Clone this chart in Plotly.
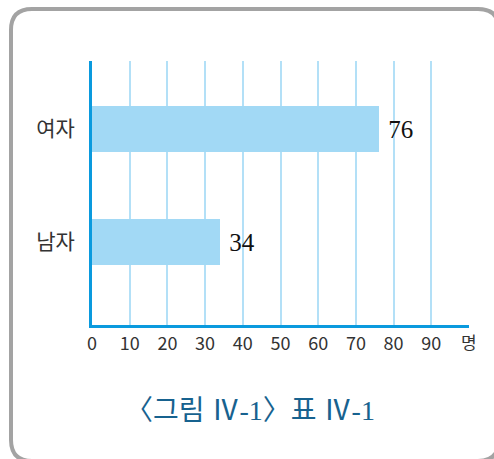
import plotly.graph_objects as go

categories = ["남자", "여자"]
values = [34, 76]
tick_vals = [0, 10, 20, 30, 40, 50, 60, 70, 80, 90]
tick_text = ["0", "10", "20", "30", "40", "50", "60", "70", "80", "90"]
unit_label = "명"
caption = "〈그림 Ⅳ-1〉표 Ⅳ-1"

W, H = 494, 459
L, R, T, B = 92, 25, 61, 134
pw, ph = W - L - R, H - T - B

def px(x):
    return (x - L) / pw

def py(y):
    return (H - B - y) / ph

fig = go.Figure()
fig.add_trace(go.Bar(
    y=categories, x=values, orientation="h",
    marker=dict(color="#a2d9f5", line=dict(width=0)),
    width=0.41,
    text=values, texttemplate=" %{text}", textposition="outside",
    textfont=dict(family="Liberation Serif, serif", size=25, color="#111111"),
    cliponaxis=False,
))

# rounded border
x0, y0, x1, y1, r = 11, 9, 499, 461, 21
path = (f"M {px(x0)},{py(y0 + r)} Q {px(x0)},{py(y0)} {px(x0 + r)},{py(y0)} "
        f"L {px(x1 - r)},{py(y0)} Q {px(x1)},{py(y0)} {px(x1)},{py(y0 + r)} "
        f"L {px(x1)},{py(y1 - r)} Q {px(x1)},{py(y1)} {px(x1 - r)},{py(y1)} "
        f"L {px(x0 + r)},{py(y1)} Q {px(x0)},{py(y1)} {px(x0)},{py(y1 - r)} Z")
fig.add_shape(type="path", path=path, xref="paper", yref="paper",
              line=dict(color="#a3a3a3", width=4), layer="below")

fig.add_annotation(x=100, y=0, xref="x", yref="paper", text=unit_label,
                   showarrow=False, yanchor="top", yshift=-2,
                   font=dict(family="Noto Sans CJK KR", size=17, color="#333333"))
fig.add_annotation(x=px(250), y=py(410), xref="paper", yref="paper", text=caption,
                   showarrow=False, xanchor="center", yanchor="middle",
                   font=dict(family="Liberation Serif, Noto Sans CJK KR", size=28, color="#17628f"))

fig.update_layout(
    width=W, height=H,
    margin=dict(l=L, r=R, t=T, b=B),
    paper_bgcolor="white", plot_bgcolor="white",
    showlegend=False,
    bargap=0,
    xaxis=dict(range=[0, 100], tickvals=tick_vals, ticktext=tick_text,
               showgrid=True, gridcolor="#b3e0f7", gridwidth=2,
               zeroline=False, showline=True, linecolor="#0a9ade", linewidth=3,
               ticks="", ticklabelstandoff=0,
               tickfont=dict(family="Noto Sans CJK KR", size=18, color="#333333")),
    yaxis=dict(range=[-0.735, 1.60], showgrid=False, zeroline=False,
               showline=True, linecolor="#0a9ade", linewidth=3,
               ticks="", ticklabelstandoff=10,
               tickfont=dict(family="Noto Sans CJK KR", size=21, color="#333333")),
)

fig.write_html("out.html")
